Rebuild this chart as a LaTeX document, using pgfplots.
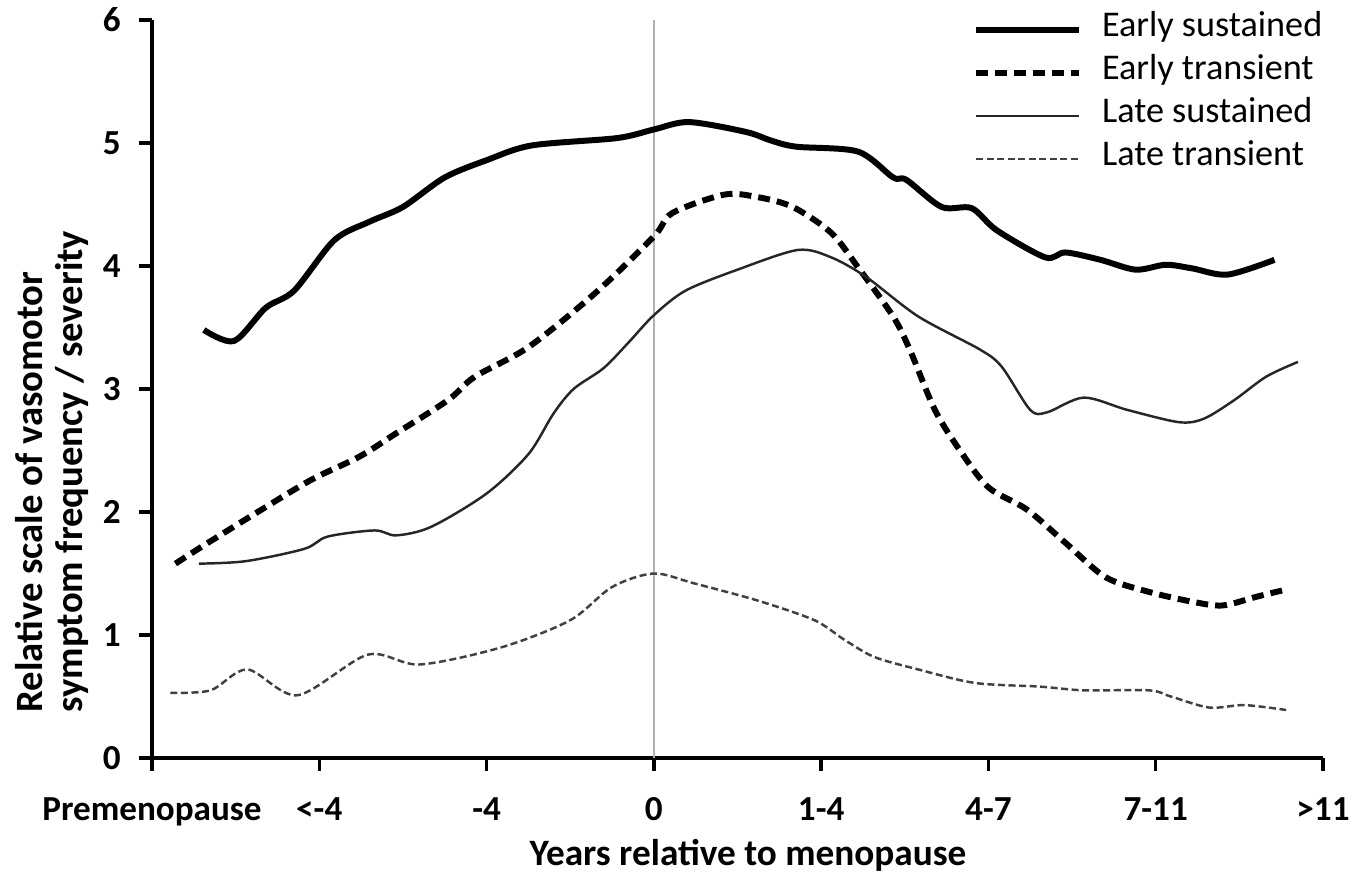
\documentclass[border=0pt]{standalone}
\usepackage{pgfplots}
\pgfplotsset{compat=1.18}
\usepackage{fontspec}
\setmainfont{Carlito}
\begin{document}
\begin{tikzpicture}
\useasboundingbox (0,0) rectangle (136.3mm,87.3mm);
\begin{axis}[
  scale only axis, width=117.1mm, height=73.8mm,
  at={(15.2mm,11.5mm)}, anchor=south west,
  xmin=0, xmax=7, ymin=0, ymax=6,
  axis lines=left,
  axis line style={line width=1pt, -},
  xtick={0,1,2,3,4,5,6,7},
  xticklabels={Premenopause,{<-4},-4,0,1-4,4-7,7-11,{>11}},
  ytick={0,1,2,3,4,5,6},
  yticklabels={0,1,2,3,4,5,6},
  tick align=outside, major tick length=1.3mm,
  tick style={line width=1pt, black},
  ticklabel style={font=\bfseries\fontsize{10}{12}\selectfont},
  xticklabel style={anchor=base, yshift=-5.0mm},
  yticklabel style={xshift=-0.6mm},
  xlabel={Years relative to menopause},
  xlabel style={font=\bfseries\fontsize{10.6}{13}\selectfont, at={(axis description cs:0.509,-0.132)}, anchor=center, inner sep=0pt},
  ylabel={Relative scale of vasomotor\\symptom frequency / severity},
  ylabel style={font=\bfseries\fontsize{11}{11.3}\selectfont, align=left, at={(axis description cs:-0.0854,0.061)}, anchor=west, inner sep=0pt},
  legend style={draw=none, fill=none, at={(1.0,1.016)}, anchor=north east,
    font=\fontsize{10.3}{12}\selectfont, inner sep=0pt,
    nodes={inner sep=0pt, text height=8pt, text depth=4.2pt},
    /tikz/every odd column/.append style={column sep=2mm}},
  legend cell align=left,
  legend image code/.code={\draw[#1] (0mm,0mm) -- (10.3mm,0mm);},
  clip=false,
]
\addplot[gray!60, line width=0.6pt, forget plot] coordinates {(3,0) (3,6)};

% Early sustained
\addplot[black, line width=1.7pt, smooth, tension=0.5] coordinates {
(0.31,3.48) (0.49,3.39) (0.68,3.66) (0.85,3.80) (1.09,4.21) (1.30,4.36)
(1.50,4.48) (1.75,4.72) (2.00,4.86) (2.27,4.98) (2.78,5.04) (3.00,5.11)
(3.21,5.17) (3.55,5.09) (3.70,5.02) (3.85,4.97) (4.22,4.93) (4.43,4.72) (4.51,4.70)
(4.72,4.48) (4.90,4.47) (5.05,4.29) (5.34,4.07) (5.46,4.11) (5.67,4.05)
(5.88,3.97) (6.06,4.01) (6.22,3.98) (6.43,3.93) (6.71,4.05)};
\addlegendentry{Early sustained}

% Early transient
\addplot[black, line width=1.7pt, dash pattern=on 3.4pt off 2pt, smooth, tension=0.5] coordinates {
(0.14,1.58) (0.30,1.72) (0.62,1.99) (0.95,2.26) (1.24,2.45) (1.46,2.64)
(1.77,2.91) (1.93,3.10) (2.25,3.34) (2.65,3.78) (3.00,4.24) (3.11,4.43)
(3.42,4.58) (3.62,4.56) (3.83,4.48) (4.06,4.27) (4.22,3.99) (4.43,3.59)
(4.53,3.32) (4.68,2.83) (4.83,2.50) (5.00,2.20) (5.23,2.02) (5.46,1.75)
(5.70,1.47) (5.96,1.35) (6.22,1.27) (6.40,1.24) (6.60,1.31) (6.78,1.37)};
\addlegendentry{Early transient}

% Late sustained
\addplot[black!85, line width=0.7pt, smooth, tension=0.5] coordinates {
(0.28,1.58) (0.56,1.60) (0.91,1.70) (1.05,1.80) (1.33,1.85) (1.46,1.81)
(1.67,1.88) (2.00,2.15) (2.25,2.47) (2.40,2.80) (2.52,3.00) (2.70,3.17)
(2.85,3.38) (3.00,3.60) (3.19,3.80) (3.50,3.97) (3.86,4.13) (4.06,4.07) (4.27,3.91)
(4.58,3.59) (4.95,3.32) (5.08,3.18) (5.25,2.83) (5.35,2.81) (5.57,2.93)
(5.83,2.83) (6.14,2.73) (6.29,2.76) (6.47,2.91) (6.66,3.10) (6.85,3.22)};
\addlegendentry{Late sustained}

% Late transient
\addplot[black!75, line width=0.7pt, dash pattern=on 2pt off 1pt, smooth, tension=0.5] coordinates {
(0.11,0.53) (0.35,0.55) (0.57,0.72) (0.87,0.51) (1.29,0.84) (1.60,0.76)
(2.09,0.90) (2.50,1.12) (2.75,1.39) (3.00,1.50) (3.24,1.42) (3.62,1.28)
(3.96,1.12) (4.14,0.96) (4.32,0.82) (4.58,0.72) (4.92,0.61) (5.31,0.58)
(5.57,0.55) (5.96,0.55) (6.09,0.50) (6.32,0.41) (6.53,0.43) (6.78,0.39)};
\addlegendentry{Late transient}
\end{axis}
\end{tikzpicture}
\end{document}
